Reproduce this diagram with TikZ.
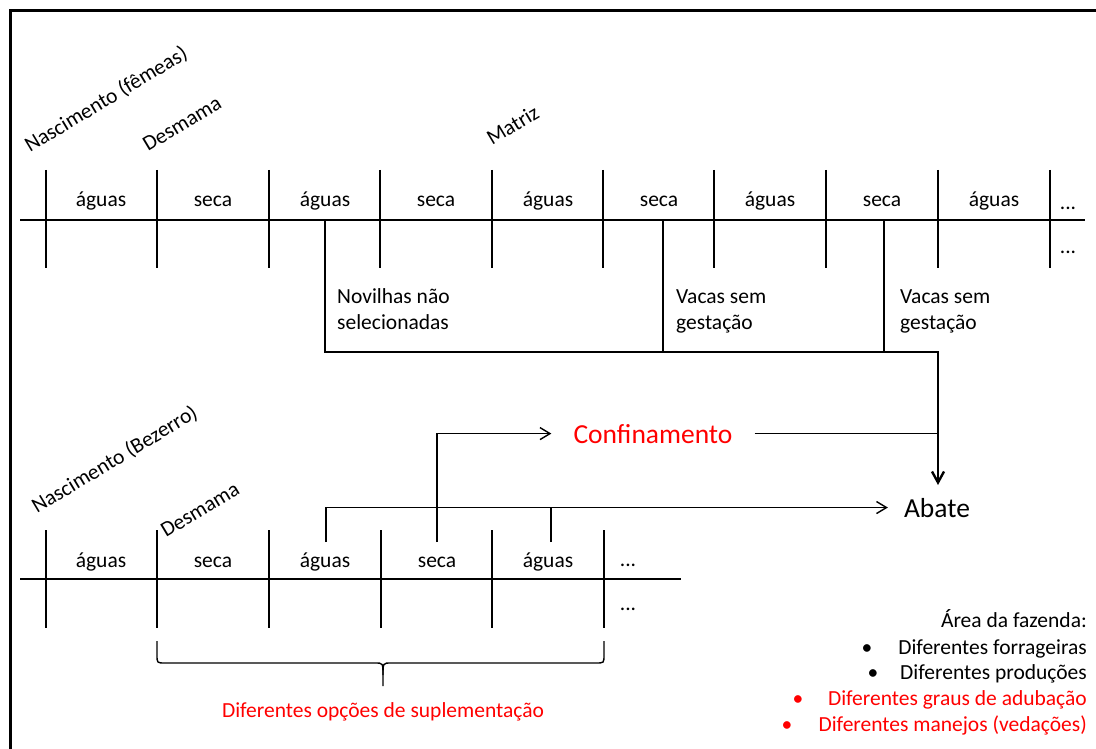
\documentclass[tikz,border=0pt]{standalone}
\usepackage{fontspec}
\setmainfont{Carlito}
\usetikzlibrary{arrows.meta}

\tikzset{
  txt/.style={font=\fontsize{21.5}{26}\selectfont, inner sep=0pt},
  big/.style={font=\fontsize{27.5}{32}\selectfont},
  rot/.style={txt, rotate=31, anchor=base west},
  ln/.style={line width=1.4pt},
  seta/.style={ln, -{Straight Barb[length=10pt,width=12pt]}},
}

\begin{document}
\begin{tikzpicture}[x=1pt,y=-1pt]
  \clip (0,0) rectangle (1096,749);
  \useasboundingbox (0,0) rectangle (1096,749);
  \draw[line width=3pt] (10,11) rectangle (1120,770); % moldura

  % linha do tempo - femeas
  \draw[ln] (20,220) -- (1085,220);
  \foreach \x in {46,157,269,380,492,603,714,826,938,1050}
    \draw[ln] (\x,170) -- (\x,268);
  \foreach \x/\per [count=\i] in {101/águas,213/seca,325/águas,436/seca,548/águas,659/seca,770/águas,882/seca,994/águas}
    \node[txt, anchor=base] (f\i) at (\x,207) {\per};
  \node[txt, anchor=base] (fd1) at (1068,210) {...};
  \node[txt, anchor=base] (fd2) at (1068,254) {...};

  \node[rot] (nascf) at (30,153) {Nascimento (fêmeas)};
  \node[rot] (desmf) at (148,152) {Desmama};
  \node[rot] (matriz) at (492,146) {Matriz};

  % descarte
  \node[txt, anchor=base west] (novilhas) at (337,303) {Novilhas não};
  \node[txt, anchor=base west] (novilhas2) at (337,329) {selecionadas};
  \node[txt, anchor=base west] (vacas1) at (676,303) {Vacas sem};
  \node[txt, anchor=base west] (vacas1b) at (676,329) {gestação};
  \node[txt, anchor=base west] (vacas2) at (900,303) {Vacas sem};
  \node[txt, anchor=base west] (vacas2b) at (900,329) {gestação};

  \node[txt, big, anchor=base, text=red, inner xsep=22pt] (conf) at (653,443) {Confinamento};
  \node[txt, big, anchor=base, inner xsep=16pt, inner ysep=0pt] (abate) at (937,517) {Abate};
  \coordinate (topo) at (938,485);
  \coordinate (junc) at (938,435);

  \draw[ln] (325,220) -- (325,352) -- (938,352);
  \draw[ln] (663,220) -- (663,352);
  \draw[ln] (884,220) -- (884,352);
  \draw[line width=2.4pt, -{Straight Barb[length=11pt,width=12pt]}] (938,351) -- (topo);
  \draw[ln] (conf.east) -- (conf.east -| junc);

  % linha do tempo - bezerros
  \draw[ln] (20,579) -- (681,579);
  \foreach \x in {46,157,269,381,492,604}
    \draw[ln] (\x,530) -- (\x,628);
  \foreach \x/\per [count=\i] in {101/águas,213/seca,325/águas,437/seca,548/águas}
    \node[txt, anchor=base] (b\i) at (\x,567) {\per};
  \node[txt, anchor=base] (bd1) at (628,566) {...};
  \node[txt, anchor=base] (bd2) at (628,610) {...};

  \node[rot] (nascb) at (37,514) {Nascimento (Bezerro)};
  \node[rot] (desmb) at (166,538) {Desmama};

  \draw[seta] (326,542) |- (abate.west);
  \draw[ln] (551,542) -- (551,508);
  \draw[seta] (437,542) |- (conf.west);

  % chave
  \draw[ln] (157,641) -- (157,655) .. controls (157,663) .. (165,663) -- (375,663)
    .. controls (383,663) .. (383,675) -- (383,686);
  \draw[ln] (604,641) -- (604,655) .. controls (604,663) .. (596,663) -- (391,663)
    .. controls (383,663) .. (383,675);
  \node[txt, anchor=base, text=red] (supl) at (383,717) {Diferentes opções de suplementação};

  % area da fazenda
  \node[txt, anchor=base east] (area) at (1087,627) {Área da fazenda:};
  \node[txt, anchor=base east] (a1) at (1087,654) {Diferentes forrageiras};
  \node[txt, anchor=base east] (a2) at (1087,679) {Diferentes produções};
  \node[txt, anchor=base east, text=red] (a3) at (1087,705) {Diferentes graus de adubação};
  \node[txt, anchor=base east, text=red] (a4) at (1087,731) {Diferentes manejos (vedações)};
  \node[txt, anchor=base] (p1) at (867,654) {•};
  \node[txt, anchor=base] (p2) at (873,679) {•};
  \node[txt, anchor=base, text=red] (p3) at (798,705) {•};
  \node[txt, anchor=base, text=red] (p4) at (787,731) {•};
\end{tikzpicture}
\end{document}
